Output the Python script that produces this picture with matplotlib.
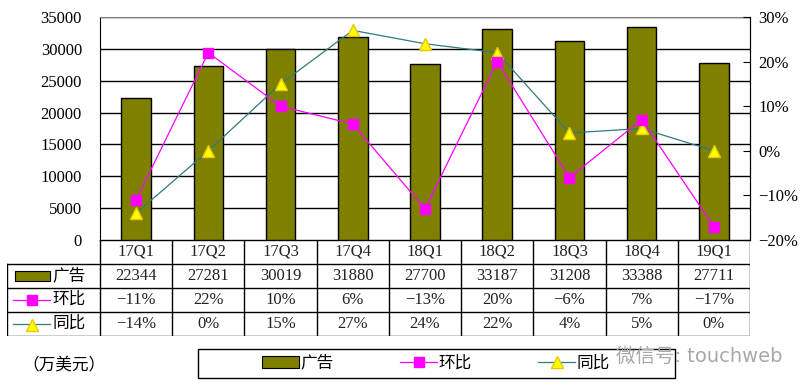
import numpy as np
import matplotlib.pyplot as plt
from matplotlib.lines import Line2D
from matplotlib.patches import Rectangle

plt.rcParams['font.family'] = ['Liberation Serif', 'Noto Sans CJK SC']
plt.rcParams['font.size'] = 12

# 数据
quarters = ['17Q1', '17Q2', '17Q3', '17Q4', '18Q1', '18Q2', '18Q3', '18Q4', '19Q1']
ad_revenue = [22344, 27281, 30019, 31880, 27700, 33187, 31208, 33388, 27711]
qoq_pct = [-11, 22, 10, 6, -13, 20, -6, 7, -17]
yoy_pct = [-14, 0, 15, 27, 24, 22, 4, 5, 0]

olive = '#808000'
magenta = '#FF00FF'
teal = '#2E7C7C'
yellow = '#FFFF00'

def pct(v):
    return f'{v}%'.replace('-', '\u2212')

W, H = 810, 391
fig = plt.figure(figsize=(W / 100, H / 100), dpi=100)

def px_rect(x0, y0, x1, y1):
    return [x0 / W, 1 - y1 / H, (x1 - x0) / W, (y1 - y0) / H]

x = np.arange(len(quarters))

# 主图: 柱状图
ax = fig.add_axes(px_rect(100, 17, 750, 240))
ax.bar(x, ad_revenue, width=0.41, color=olive, edgecolor='black', linewidth=1, zorder=2)
ax.set_xlim(-0.5, len(quarters) - 0.5)
ax.set_ylim(0, 35000)
ax.set_yticks(range(0, 35001, 5000))
ax.yaxis.grid(True, color='black', linewidth=1, zorder=0)
ax.set_axisbelow(True)
ax.set_xticks([])
ax.tick_params(axis='y', length=0, pad=13)
ax.spines['top'].set_color('#808080')
ax.spines['bottom'].set_visible(False)
for s in ['left', 'right']:
    ax.spines[s].set_color('black')

# 右轴: 百分比
ax2 = ax.twinx()
ax2.plot(x, yoy_pct, color=teal, linewidth=0.9, marker='^', markersize=8,
         markerfacecolor=yellow, markeredgecolor='#E8C800', zorder=3)
ax2.plot(x, qoq_pct, color=magenta, linewidth=0.9, marker='s', markersize=7.5,
         markerfacecolor=magenta, markeredgecolor=magenta, zorder=4)
ax2.set_ylim(-20, 30)
ax2.set_yticks(range(-20, 31, 10))
ax2.set_yticklabels([pct(v) for v in range(-20, 31, 10)])
ax2.tick_params(axis='y', direction='in', length=5, pad=6, color='black')
for s in ['top', 'bottom', 'left']:
    ax2.spines[s].set_visible(False)

# 数据表
n = len(quarters)
label_w = 93 / (650 / n)
tx = fig.add_axes(px_rect(7, 240, 750, 336))
tx.set_xlim(-0.5 - label_w, n - 0.5)
tx.set_ylim(4, 0)
tx.axis('off')
lw = 1
tx.plot([-0.5, n - 0.5], [0, 0], color='black', lw=lw)
for yy in [1, 2, 3, 4]:
    tx.plot([-0.5 - label_w, n - 0.5], [yy, yy], color='black', lw=lw)
for xx in np.arange(-0.5, n, 1.0):
    tx.plot([xx, xx], [0, 4], color='black', lw=lw)
tx.plot([-0.5 - label_w, -0.5 - label_w], [1, 4], color='black', lw=lw)

rows = [quarters, [str(v) for v in ad_revenue], [pct(v) for v in qoq_pct], [pct(v) for v in yoy_pct]]
for r, row in enumerate(rows):
    for c, txt in enumerate(row):
        tx.text(c, r + 0.5, txt, ha='center', va='center', fontsize=12, color='#222222')

# 表格左侧图例
lx0 = -0.5 - label_w
tx.add_patch(Rectangle((lx0 + 0.11, 1.3), 0.48, 0.4, facecolor=olive, edgecolor='black', lw=0.8))
tx.add_line(Line2D([lx0 + 0.08, lx0 + 0.6], [2.5, 2.5], color=magenta, lw=0.9))
tx.plot([lx0 + 0.34], [2.5], marker='s', markersize=7.5, color=magenta)
tx.add_line(Line2D([lx0 + 0.08, lx0 + 0.6], [3.5, 3.5], color=teal, lw=0.9))
tx.plot([lx0 + 0.34], [3.55], marker='^', markersize=8, markerfacecolor=yellow, markeredgecolor='#E8C800')
for r, name in zip([1, 2, 3], ['广告', '环比', '同比']):
    tx.text(lx0 + 0.63, r + 0.5, name, ha='left', va='center', fontsize=12)

# 底部图例 (外框单独画)
fig.add_artist(Rectangle((198 / W, 1 - 378 / H), 477 / W, 29 / H, transform=fig.transFigure,
                         facecolor='none', edgecolor='black', lw=1))
handles = [
    Rectangle((0, 0), 1, 1, facecolor=olive, edgecolor='black', lw=0.8),
    Line2D([], [], color=magenta, lw=0.9, marker='s', markersize=7.5),
    Line2D([], [], color=teal, lw=0.9, marker='^', markersize=8,
           markerfacecolor=yellow, markeredgecolor='#E8C800'),
]
fig.legend(handles, ['广告', '环比', '同比'], ncol=3, loc='center',
           bbox_to_anchor=(436 / W, 1 - 363.5 / H), frameon=False, fontsize=12,
           handlelength=2.2, handletextpad=0.1, columnspacing=4.0)

fig.text(22 / W, 1 - 366 / H, '（万美元）', fontsize=12, va='center', ha='left')
fig.text(783 / W, 1 - 356 / H, '微信号: touchweb', fontsize=14, va='center', ha='right',
         color='#A8A8A8', family=['DejaVu Sans', 'Noto Sans CJK SC'])

fig.savefig('out.png', dpi=100)
